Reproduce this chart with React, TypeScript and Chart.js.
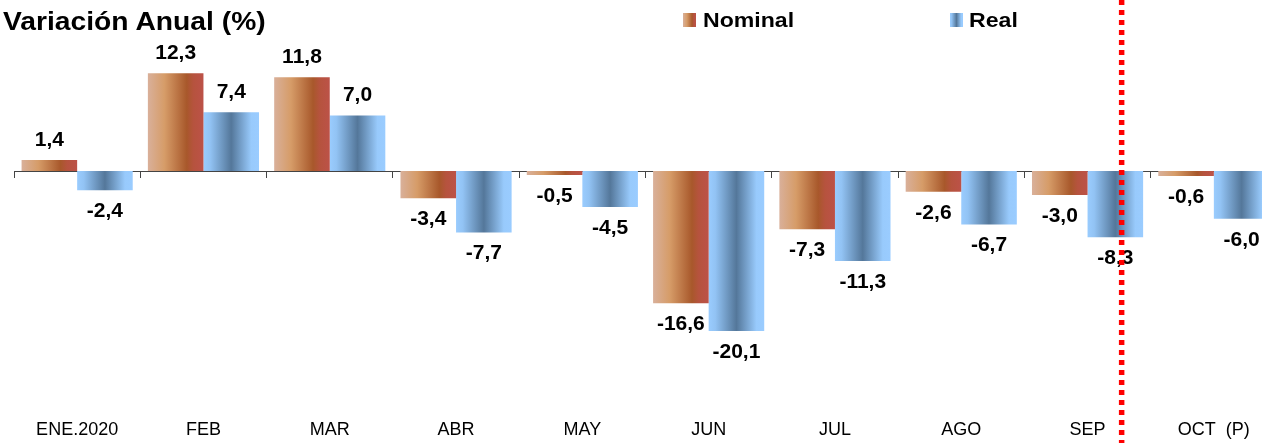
import React, { useEffect, useRef } from "react";
import { Chart, registerables } from "chart.js";

Chart.register(...registerables);

const categories = ["ENE.2020", "FEB", "MAR", "ABR", "MAY", "JUN", "JUL", "AGO", "SEP", "OCT  (P)"];
const nominal = [1.4, 12.3, 11.8, -3.4, -0.5, -16.6, -7.3, -2.6, -3.0, -0.6];
const real = [-2.4, 7.4, 7.0, -7.7, -4.5, -20.1, -11.3, -6.7, -8.3, -6.0];
const seriesNames = ["Nominal", "Real"];
const titleText = "Variación Anual (%)";
const markerPosition = 8.27; // between SEP and OCT, in category index units

const FONT = '"Liberation Sans", Arial, Helvetica, sans-serif';
const CAT_PCT = 0.88;

const nominalStops: [number, string][] = [
  [0, "#D9B09A"],
  [0.3, "#D69C68"],
  [0.7, "#A8582B"],
  [0.82, "#B6533E"],
  [1, "#BC5248"],
];
const realStops: [number, string][] = [
  [0, "#9ACCFE"],
  [0.12, "#92C3F4"],
  [0.5, "#54779A"],
  [0.86, "#98CAFC"],
  [1, "#9ACCFF"],
];

const cssGradient = (stops: [number, string][]) =>
  `linear-gradient(to right, ${stops.map(([p, c]) => `${c} ${p * 100}%`).join(", ")})`;

const fmt = (v: number) => v.toFixed(1).replace(".", ",");

function gradientFill(stops: [number, string][], fallback: string) {
  return (ctx: any) => {
    if (ctx.type !== "data") return fallback;
    const chart = ctx.chart;
    const xs = chart.scales && chart.scales.x;
    if (!xs || !chart.chartArea || !isFinite(xs.width)) return fallback;
    const center = xs.getPixelForValue(ctx.dataIndex);
    const catW = xs.width / categories.length;
    const half = (catW * CAT_PCT) / 2;
    const left = ctx.datasetIndex === 0 ? center - half : center;
    const g = chart.ctx.createLinearGradient(left, 0, left + half, 0);
    stops.forEach(([p, c]) => g.addColorStop(p, c));
    return g;
  };
}

const labelPlugin = {
  id: "valueLabels",
  afterDatasetsDraw(chart: any) {
    const ctx = chart.ctx;
    ctx.save();
    ctx.font = `bold 21px ${FONT}`;
    ctx.fillStyle = "#000";
    ctx.textAlign = "center";
    ctx.textBaseline = "middle";
    chart.data.datasets.forEach((ds: any, i: number) => {
      const meta = chart.getDatasetMeta(i);
      meta.data.forEach((el: any, j: number) => {
        const v = ds.data[j];
        const y = v >= 0 ? el.y - 20 : el.y + 21;
        ctx.fillText(fmt(v), el.x, y);
      });
    });
    ctx.restore();
  },
};

const markerPlugin = {
  id: "marker",
  afterDraw(chart: any) {
    const ctx = chart.ctx;
    const x = chart.scales.x.getPixelForValue(markerPosition);
    ctx.save();
    ctx.strokeStyle = "#FF0000";
    ctx.lineWidth = 5.5;
    ctx.setLineDash([5, 5]);
    ctx.beginPath();
    ctx.moveTo(x, 0);
    ctx.lineTo(x, chart.height);
    ctx.stroke();
    ctx.restore();
  },
};

export default function App() {
  const ref = useRef<HTMLCanvasElement | null>(null);

  useEffect(() => {
    if (!ref.current) return;
    const chart = new Chart(ref.current, {
      type: "bar",
      data: {
        labels: categories,
        datasets: [
          {
            label: seriesNames[0],
            data: nominal,
            backgroundColor: gradientFill(nominalStops, "#C07040"),
            borderWidth: 0,
            categoryPercentage: CAT_PCT,
            barPercentage: 1,
          },
          {
            label: seriesNames[1],
            data: real,
            backgroundColor: gradientFill(realStops, "#7FA8D0"),
            borderWidth: 0,
            categoryPercentage: CAT_PCT,
            barPercentage: 1,
          },
        ],
      },
      options: {
        responsive: false,
        animation: false,
        devicePixelRatio: 1,
        layout: { padding: { left: 14, right: 13, top: 12, bottom: -6.4 } },
        plugins: {
          legend: { display: false },
          title: { display: false },
          tooltip: { enabled: false },
        },
        scales: {
          x: {
            type: "category",
            position: { y: 0 } as any,
            offset: true,
            afterFit: (scale: any) => {
              scale.height = 0;
            },
            grid: {
              display: true,
              offset: true,
              drawOnChartArea: false,
              drawTicks: true,
              tickLength: 6,
              color: "#444",
              lineWidth: 1,
            },
            border: { display: true, color: "#444", width: 1 },
            ticks: { display: false },
          },
          x2: {
            type: "category",
            labels: categories,
            position: "bottom",
            offset: true,
            grid: { display: false, drawTicks: false },
            border: { display: false },
            ticks: {
              padding: 9,
              color: "#000",
              font: { family: FONT, size: 18 },
              maxRotation: 0,
              autoSkip: false,
            },
          },
          y: { min: -30, max: 20, display: false },
        },
      } as any,
      plugins: [labelPlugin, markerPlugin],
    });
    return () => chart.destroy();
  }, []);

  const legendText: React.CSSProperties = {
    position: "absolute",
    top: 9,
    fontFamily: FONT,
    fontWeight: "bold",
    fontSize: 21,
    lineHeight: "21px",
    color: "#000",
    transform: "scaleX(1.1)",
    transformOrigin: "left center",
    whiteSpace: "pre",
  };
  const swatch: React.CSSProperties = { position: "absolute", top: 13, width: 13, height: 14 };

  return (
    <div
      style={{
        position: "fixed",
        left: 0,
        top: 0,
        width: 1290,
        height: 443,
        overflow: "hidden",
        background: "#fff",
      }}
    >
      <canvas ref={ref} width={1290} height={443} style={{ display: "block" }} />
      <div
        style={{
          position: "absolute",
          left: 3,
          top: 9,
          fontFamily: FONT,
          fontWeight: "bold",
          fontSize: 25,
          lineHeight: "25px",
          color: "#000",
          transform: "scaleX(1.13)",
          transformOrigin: "left center",
          whiteSpace: "pre",
        }}
      >
        {titleText}
      </div>
      <div style={{ ...swatch, left: 683, background: cssGradient(nominalStops) }} />
      <div style={{ ...legendText, left: 703 }}>{seriesNames[0]}</div>
      <div style={{ ...swatch, left: 950, background: cssGradient(realStops) }} />
      <div style={{ ...legendText, left: 969 }}>{seriesNames[1]}</div>
    </div>
  );
}
